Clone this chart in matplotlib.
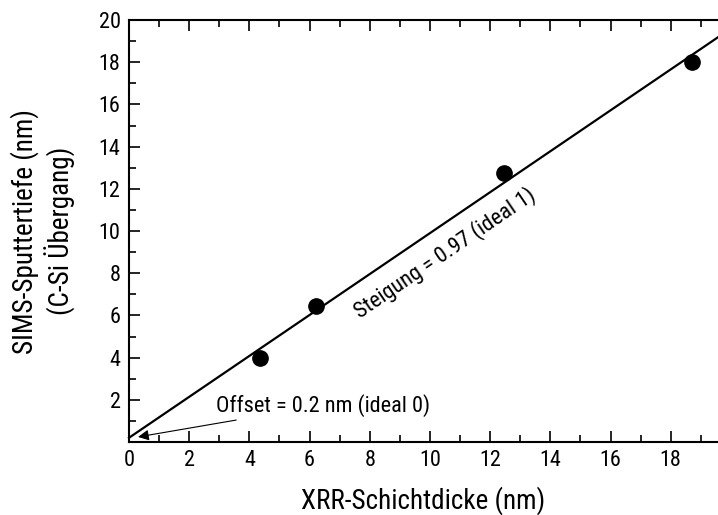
import numpy as np
import matplotlib
matplotlib.use("Agg")
import matplotlib.pyplot as plt
from matplotlib.ticker import MultipleLocator

plt.rcParams["font.family"] = ["Roboto Condensed", "DejaVu Sans"]

# XRR thickness vs. SIMS sputter depth of the C-Si interface (nm)
xrr_nm = [4.35, 6.2, 12.45, 18.7]
sims_nm = [4.0, 6.45, 12.75, 18.0]

# linear fit reported on the chart
slope = 0.97
offset = 0.2

fig = plt.figure(figsize=(7.18, 5.15), dpi=100)
ax = fig.add_axes([129 / 718, 73 / 515, 1 - 129 / 718, 422 / 515])

ax.set_xlim(0, 19.57)
ax.set_ylim(0, 20)

xs = np.array(ax.get_xlim())
ax.plot(xs, slope * xs + offset, color="black", lw=1.6, clip_on=False)
ax.plot(xrr_nm, sims_nm, "o", color="black", ms=11)

ax.text(445, 262, f"Steigung = {slope:.2f} (ideal 1)", transform=None,
        fontsize=16, rotation=34.3, ha="center", va="center")
ax.annotate(f"Offset = {offset} nm (ideal 0)", xy=(0.3, 0.24), xytext=(2.9, 1.75),
            fontsize=16, va="center",
            arrowprops=dict(arrowstyle="-|>", color="black", lw=0.8,
                            mutation_scale=16, shrinkB=0, shrinkA=3))

ax.xaxis.set_major_locator(MultipleLocator(2))
ax.xaxis.set_minor_locator(MultipleLocator(1))
ax.yaxis.set_major_locator(MultipleLocator(2))
ax.yaxis.set_minor_locator(MultipleLocator(1))
ax.set_yticks(range(2, 21, 2))

ax.tick_params(which="both", direction="in", top=True, right=False,
               labelsize=16, width=1.2)
ax.tick_params(which="major", length=8, pad=6)
ax.tick_params(which="minor", length=5)
ax.spines["right"].set_visible(False)
for s in ["left", "bottom", "top"]:
    ax.spines[s].set_linewidth(1.5)

ax.set_xlabel("XRR-Schichtdicke (nm)", fontsize=19.5, labelpad=11)
ax.set_ylabel("SIMS-Sputtertiefe (nm)\n(C-Si Übergang)", fontsize=19.5,
              labelpad=16, linespacing=1.25)

fig.savefig("out.png", dpi=100)
